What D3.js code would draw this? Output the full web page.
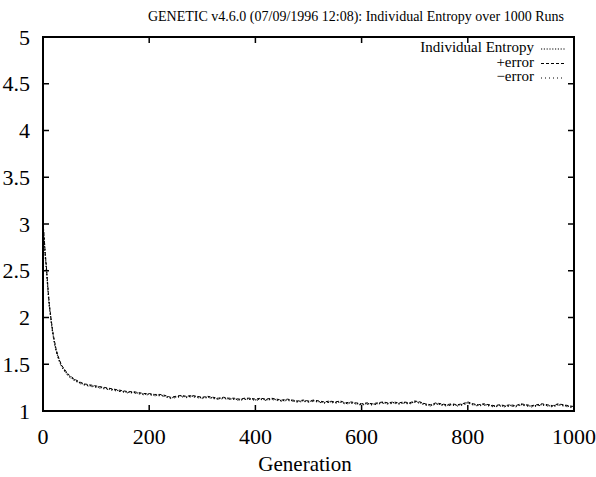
<!DOCTYPE html>
<html><head><meta charset="utf-8">
<script src="https://cdn.jsdelivr.net/npm/d3@7"></script>
<style>body{margin:0;background:#fff}</style>
</head><body>
<svg id="c" width="596" height="477"></svg>
<script>
const titleText = "GENETIC v4.6.0 (07/09/1996 12:08): Individual Entropy over 1000 Runs";
const xLabel = "Generation";
const xTicks = [0, 200, 400, 600, 800, 1000];
const yTicks = [1, 1.5, 2, 2.5, 3, 3.5, 4, 4.5, 5];
const generations = [0,2,4,6,8,10,12,15,18,21,25,30,35,40,45,50,60,70,80,90,100,
 110,120,130,140,150,160,170,180,190,200,210,220,230,240,250,260,270,280,290,300,
 310,320,330,340,350,360,370,380,390,400,410,420,430,440,450,460,470,480,490,500,
 510,520,530,540,550,560,570,580,590,600,610,620,630,640,650,660,670,680,690,700,
 710,720,730,740,750,760,770,780,790,800,810,820,830,840,850,860,870,880,890,900,
 910,920,930,940,950,960,970,980,990,1000];
const entropy = [3.00,2.85,2.68,2.55,2.40,2.25,2.12,1.98,1.85,1.75,1.64,1.55,1.48,1.44,1.40,1.37,1.33,1.30,1.28,1.27,1.26,
 1.25,1.24,1.23,1.22,1.21,1.20,1.20,1.19,1.18,1.18,1.17,1.17,1.16,1.14,1.15,1.16,1.15,1.16,1.15,1.14,
 1.15,1.14,1.13,1.14,1.13,1.13,1.12,1.13,1.13,1.12,1.13,1.12,1.13,1.12,1.11,1.12,1.11,1.10,1.11,1.10,
 1.11,1.10,1.09,1.10,1.09,1.10,1.08,1.09,1.08,1.07,1.08,1.07,1.08,1.09,1.08,1.09,1.08,1.09,1.08,1.10,
 1.09,1.07,1.06,1.08,1.07,1.06,1.07,1.06,1.07,1.09,1.07,1.06,1.07,1.06,1.05,1.06,1.05,1.06,1.05,1.07,
 1.06,1.05,1.06,1.07,1.06,1.05,1.07,1.06,1.05,1.04];
const errorMargin = [0.02,0.02,0.02,0.02,0.02,0.02,0.02,0.015,0.015,0.015,0.012,0.012,0.01,0.01,0.01,0.01,0.008,0.008,0.008,0.008,0.008,
 0.008,0.008,0.007,0.007,0.007,0.007,0.007,0.007,0.007,0.007,0.007,0.007,0.007,0.007,0.007,0.007,0.007,0.007,0.007,0.007,
 0.007,0.007,0.007,0.007,0.007,0.007,0.007,0.007,0.007,0.007,0.007,0.007,0.007,0.007,0.007,0.007,0.007,0.007,0.007,0.007,
 0.007,0.007,0.007,0.007,0.007,0.007,0.007,0.007,0.007,0.007,0.007,0.007,0.007,0.007,0.007,0.007,0.007,0.007,0.007,0.007,
 0.007,0.007,0.007,0.007,0.007,0.007,0.007,0.007,0.007,0.007,0.007,0.007,0.007,0.007,0.007,0.007,0.007,0.007,0.007,0.007,
 0.007,0.007,0.007,0.007,0.007,0.007,0.007,0.007,0.007,0.007];
const legendLabels = ["Individual Entropy", "+error", "\u2212error"];

const FONT = "'Liberation Serif', 'Times New Roman', serif";
const svg = d3.select("#c");
const m = {l:43, r:574, t:37, b:411};
const x = d3.scaleLinear().domain([0,1000]).range([m.l, m.r]);
const y = d3.scaleLinear().domain([1,5]).range([m.b, m.t]);

function txt(sel){ return sel.attr("font-family", FONT).attr("fill","#000"); }

txt(svg.append("text")).attr("x", 356).attr("y", 21).attr("text-anchor","middle")
  .attr("font-size", 14).text(titleText);

// y tick labels
txt(svg.selectAll(".yl").data(yTicks).enter().append("text"))
  .attr("x", 30).attr("y", d => y(d)).attr("dy","0.35em").attr("text-anchor","end")
  .attr("font-size", 22).text(d => d);
// x tick labels
txt(svg.selectAll(".xl").data(xTicks).enter().append("text"))
  .attr("x", d => x(d)).attr("y", 444).attr("text-anchor","middle")
  .attr("font-size", 22).text(d => d);
txt(svg.append("text")).attr("x", 305).attr("y", 471).attr("text-anchor","middle")
  .attr("font-size", 21).text(xLabel);

// ticks (mirrored, inward)
const tk = 6;
const g = svg.append("g").attr("stroke","#000").attr("stroke-width",1.5);
yTicks.forEach(d => {
  g.append("line").attr("x1", m.l).attr("x2", m.l+tk).attr("y1", y(d)).attr("y2", y(d));
  g.append("line").attr("x1", m.r).attr("x2", m.r-tk).attr("y1", y(d)).attr("y2", y(d));
});
xTicks.forEach(d => {
  g.append("line").attr("x1", x(d)).attr("x2", x(d)).attr("y1", m.b).attr("y2", m.b-tk);
  g.append("line").attr("x1", x(d)).attr("x2", x(d)).attr("y1", m.t).attr("y2", m.t+tk);
});
svg.append("rect").attr("x", m.l).attr("y", m.t).attr("width", m.r-m.l).attr("height", m.b-m.t)
  .attr("fill","none").attr("stroke","#000").attr("stroke-width",2);

const line = d3.line().x(d => x(d[0])).y(d => y(d[1]));
const seriesMain = generations.map((gen,i) => [gen, entropy[i]]);
const seriesPlus = generations.map((gen,i) => [gen, entropy[i] + errorMargin[i]]);
const seriesMinus = generations.map((gen,i) => [gen, entropy[i] - errorMargin[i]]);
const styles = [
  {data: seriesMain, dash: "1.2,1.6", w: 1.3},
  {data: seriesPlus, dash: "3,2", w: 1},
  {data: seriesMinus, dash: "1,3", w: 1}
];
styles.forEach(s => {
  svg.append("path").datum(s.data).attr("d", line).attr("fill","none")
    .attr("stroke","#000").attr("stroke-width", s.w).attr("stroke-dasharray", s.dash);
});

// legend
legendLabels.forEach((lab, i) => {
  const yy = 52 + i*14.5;
  txt(svg.append("text")).attr("x", 534).attr("y", yy).attr("text-anchor","end")
    .attr("font-size", 15).text(lab);
  svg.append("line").attr("x1", 541).attr("x2", 565).attr("y1", yy-3).attr("y2", yy-3)
    .attr("stroke","#000").attr("stroke-width", 1).attr("stroke-dasharray", styles[i].dash);
});
</script>
</body></html>
